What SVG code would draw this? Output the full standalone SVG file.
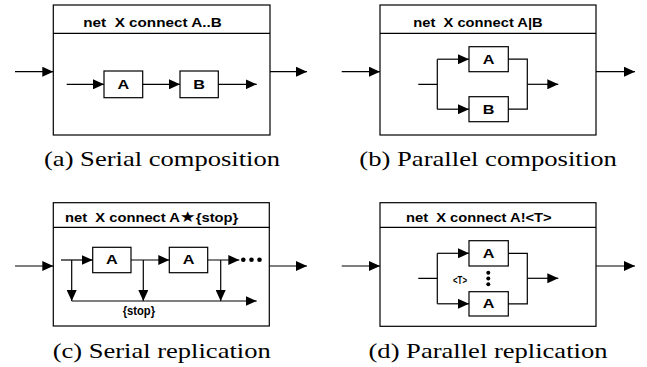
<svg xmlns="http://www.w3.org/2000/svg" width="647" height="367" viewBox="0 0 647 367">
<defs>
<style>
.frame{fill:#fff;stroke:#000;stroke-width:1.2}
.box{fill:#fff;stroke:#000;stroke-width:1.2}
.ln{fill:none;stroke:#000;stroke-width:1.2}
.arr{fill:none;stroke:#000;stroke-width:1.2;marker-end:url(#ah)}
.t{font-family:"Liberation Sans",Arial,sans-serif;font-weight:bold;font-size:12.5px;fill:#000}
.lbl{font-family:"Liberation Sans",Arial,sans-serif;font-weight:bold;font-size:12.5px;fill:#000;text-anchor:middle}
.sm{font-family:"Liberation Sans",Arial,sans-serif;font-weight:bold;font-size:10px;fill:#000}
.cap{font-family:"Liberation Serif","Times New Roman",serif;font-size:22px;fill:#000}
.dot{fill:#000}
</style>
<marker id="ah" markerUnits="userSpaceOnUse" markerWidth="12" markerHeight="10" refX="11" refY="5" orient="auto">
<path d="M0,0 L11,5 L0,10 z" fill="#000"/>
</marker>
</defs>
<rect width="647" height="367" fill="#fff"/>

<!-- Panel (a) -->
<g id="panel-a">
<rect class="frame" x="53.3" y="5" width="216.7" height="130"/>
<line class="ln" x1="53.3" y1="33.3" x2="270" y2="33.3"/>
<text class="t" x="83.3" y="26.7" xml:space="preserve" textLength="138.4" lengthAdjust="spacingAndGlyphs">net  X connect A..B</text>
</g>
<g id="a-A"><rect class="box" x="104" y="71" width="38.7" height="26.7"/><text class="lbl" x="123.3" y="88.7" textLength="11.7" lengthAdjust="spacingAndGlyphs">A</text></g>
<g id="a-B"><rect class="box" x="180" y="71" width="38.3" height="26.7"/><text class="lbl" x="199.2" y="88.7" textLength="11.7" lengthAdjust="spacingAndGlyphs">B</text></g>

<!-- Panel (b) -->
<g id="panel-b">
<rect class="frame" x="380" y="5" width="216" height="130"/>
<line class="ln" x1="380" y1="33.3" x2="596" y2="33.3"/>
<text class="t" x="413.3" y="26.7" xml:space="preserve" textLength="129.4" lengthAdjust="spacingAndGlyphs">net  X connect A|B</text>
</g>
<g id="b-A"><rect class="box" x="469" y="46.7" width="39.3" height="25"/><text class="lbl" x="488.7" y="63.6" textLength="11.7" lengthAdjust="spacingAndGlyphs">A</text></g>
<g id="b-B"><rect class="box" x="469" y="96.7" width="39.3" height="25"/><text class="lbl" x="488.7" y="113.6" textLength="11.7" lengthAdjust="spacingAndGlyphs">B</text></g>

<!-- Panel (c) -->
<g id="panel-c">
<rect class="frame" x="53.3" y="202.7" width="216" height="123.3"/>
<line class="ln" x1="53.3" y1="227.3" x2="269.3" y2="227.3"/>
<text class="t" x="65" y="221.7" xml:space="preserve" textLength="173.3" lengthAdjust="spacingAndGlyphs">net  X connect A<tspan font-family="DejaVu Sans, sans-serif" font-size="15px">★</tspan>{stop}</text>
<text class="t" x="122.7" y="315" textLength="32.3" lengthAdjust="spacingAndGlyphs">{stop}</text>
</g>
<g id="c-A1"><rect class="box" x="92.7" y="247.3" width="38.3" height="25.4"/><text class="lbl" x="111.8" y="264.4" textLength="11.7" lengthAdjust="spacingAndGlyphs">A</text></g>
<g id="c-A2"><rect class="box" x="169.3" y="247.3" width="38.4" height="25.4"/><text class="lbl" x="188.5" y="264.4" textLength="11.7" lengthAdjust="spacingAndGlyphs">A</text></g>

<!-- Panel (d) -->
<g id="panel-d">
<rect class="frame" x="380" y="202.7" width="216" height="123.6"/>
<line class="ln" x1="380" y1="227.3" x2="596" y2="227.3"/>
<text class="t" x="406" y="221.7" xml:space="preserve" textLength="145.7" lengthAdjust="spacingAndGlyphs">net  X connect A!&lt;T&gt;</text>
<text class="sm" x="453" y="284.2" textLength="14" lengthAdjust="spacingAndGlyphs">&lt;T&gt;</text>
<circle class="dot" cx="488.3" cy="272.7" r="2"/>
<circle class="dot" cx="488.3" cy="278.5" r="2"/>
<circle class="dot" cx="488.3" cy="284.3" r="2"/>
</g>
<g id="d-A1"><rect class="box" x="469" y="240.7" width="39.3" height="25.3"/><text class="lbl" x="488.7" y="257.7" textLength="11.7" lengthAdjust="spacingAndGlyphs">A</text></g>
<g id="d-A2"><rect class="box" x="469" y="291.7" width="39.3" height="24.3"/><text class="lbl" x="488.7" y="308.2" textLength="11.7" lengthAdjust="spacingAndGlyphs">A</text></g>

<!-- Connectors -->
<g id="connectors">
<!-- a -->
<path class="arr" d="M15,71.7 H53.3"/>
<path class="arr" d="M270,71.7 H307"/>
<path class="arr" d="M66.7,84.3 H104"/>
<path class="arr" d="M142.7,84.3 H180"/>
<path class="arr" d="M218.3,84.3 H256.7"/>
<!-- b -->
<path class="arr" d="M341.7,71.7 H380"/>
<path class="arr" d="M596,71.7 H635"/>
<path class="ln" d="M418.3,84.3 H437.3 M437.3,59.2 V109.2"/>
<path class="arr" d="M437.3,59.2 H469"/>
<path class="arr" d="M437.3,109.2 H469"/>
<path class="ln" d="M508.3,59.2 H527.3 V109.2 H508.3"/>
<path class="arr" d="M527.3,84.3 H558.3"/>
<!-- c -->
<path class="arr" d="M15,266 H53.3"/>
<path class="arr" d="M269.3,266 H307"/>
<path class="arr" d="M61,260 H92.7"/>
<path class="arr" d="M131,260 H169.3"/>
<path class="arr" d="M207.7,260 H239.3"/>
<path class="arr" d="M71.7,260 V301"/>
<path class="arr" d="M143.3,260 V301"/>
<path class="arr" d="M220.7,260 V301"/>
<path class="arr" d="M71.7,301 H256.7"/>
<circle class="dot" cx="243.3" cy="259.8" r="2.3"/>
<circle class="dot" cx="251.5" cy="259.8" r="2.3"/>
<circle class="dot" cx="259.5" cy="259.8" r="2.3"/>
<!-- d -->
<path class="arr" d="M341.7,266 H380"/>
<path class="arr" d="M596,266 H635"/>
<path class="ln" d="M418.3,278.3 H437.3 M437.3,253.3 V303.8"/>
<path class="arr" d="M437.3,253.3 H469"/>
<path class="arr" d="M437.3,303.8 H469"/>
<path class="ln" d="M508.3,253.3 H527.3 V303.8 H508.3"/>
<path class="arr" d="M527.3,278.3 H558.3"/>
</g>

<!-- Captions -->
<g id="captions">
<text class="cap" x="44" y="166" textLength="236" lengthAdjust="spacingAndGlyphs">(a) Serial composition</text>
<text class="cap" x="359.3" y="166" textLength="257.5" lengthAdjust="spacingAndGlyphs">(b) Parallel composition</text>
<text class="cap" x="52.7" y="357.5" textLength="218" lengthAdjust="spacingAndGlyphs">(c) Serial replication</text>
<text class="cap" x="368.5" y="357.5" textLength="239" lengthAdjust="spacingAndGlyphs">(d) Parallel replication</text>
</g>
</svg>
